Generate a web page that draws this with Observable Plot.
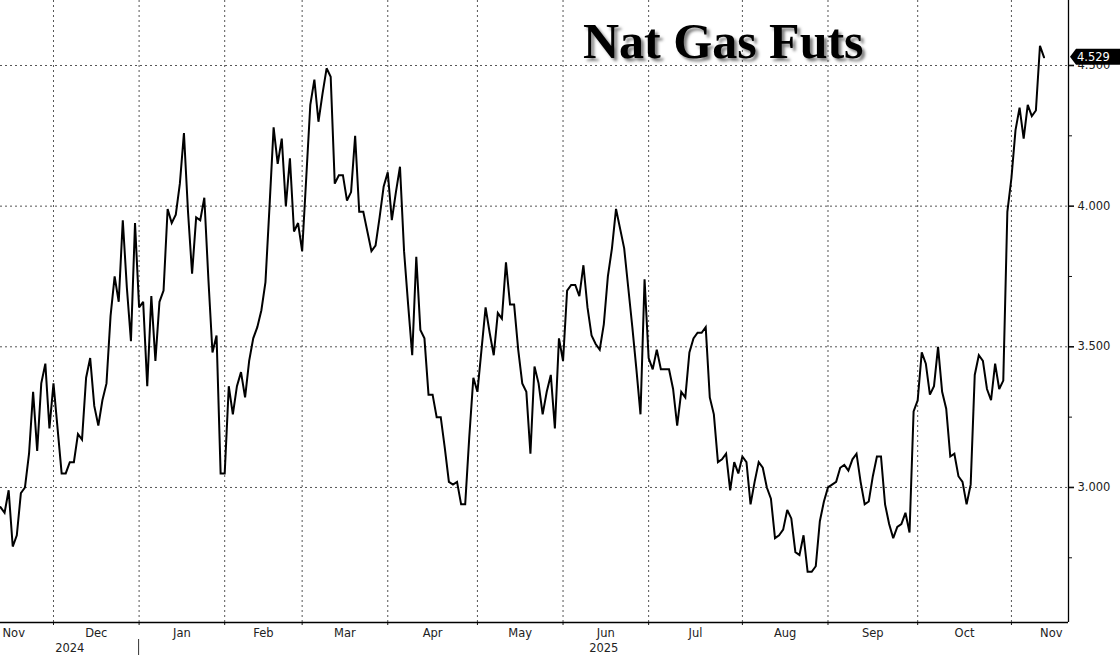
<!DOCTYPE html>
<html>
<head>
<meta charset="utf-8">
<script src="https://cdn.jsdelivr.net/npm/d3@7"></script>
<script src="https://cdn.jsdelivr.net/npm/@observablehq/plot@0.6"></script>
<style>
  html, body { margin: 0; padding: 0; background: #fff; }
  #wrap { position: relative; width: 1120px; height: 655px; overflow: hidden; background: #fff; }
  #title {
    position: absolute; left: 583px; top: 16px; margin: 0; z-index: 5;
    font-family: "Liberation Serif", "Times New Roman", serif; font-weight: bold;
    font-size: 50px; line-height: 50px; color: #000; white-space: nowrap;
    text-shadow: 3px 3px 3px rgba(0,0,0,0.5);
  }
</style>
</head>
<body>
<div id="wrap"><div id="title"></div></div>
<script>
// Daily settlement prices (trading days)
const prices = [
  2.93, 2.91, 2.99, 2.79, 2.83, 2.98, 3.00, 3.12, 3.34, 3.13,
  3.37, 3.44, 3.21, 3.37, 3.21, 3.05, 3.05, 3.09, 3.09, 3.19,
  3.17, 3.39, 3.46, 3.29, 3.22, 3.31, 3.37, 3.61, 3.75, 3.66,
  3.95, 3.71, 3.52, 3.94, 3.64, 3.66, 3.36, 3.68, 3.45, 3.66,
  3.70, 3.99, 3.94, 3.97, 4.08, 4.26, 3.98, 3.76, 3.96, 3.95,
  4.03, 3.74, 3.48, 3.54,
  3.05, 3.05, 3.36, 3.26, 3.36, 3.41, 3.32, 3.45, 3.53, 3.57,
  3.63, 3.73, 4.00, 4.28, 4.15, 4.24, 4.00, 4.17, 3.91, 3.94,
  3.84, 4.10, 4.36, 4.45, 4.30, 4.40, 4.49, 4.46, 4.08, 4.11,
  4.11, 4.02, 4.05, 4.25, 3.98, 3.98, 3.91, 3.84, 3.86, 3.96,
  4.07, 4.12, 3.95, 4.05, 4.14, 3.84, 3.65, 3.47, 3.82, 3.56,
  3.53, 3.33,
  3.33, 3.25, 3.25, 3.14, 3.02, 3.01, 3.02, 2.94, 2.94, 3.18,
  3.39, 3.34, 3.49, 3.64, 3.55, 3.47, 3.62, 3.60, 3.80, 3.65,
  3.65, 3.49, 3.37, 3.34, 3.12, 3.43, 3.37, 3.26, 3.34, 3.40,
  3.21, 3.53, 3.45, 3.70, 3.72, 3.72, 3.68, 3.79, 3.64, 3.54,
  3.51, 3.49, 3.58, 3.75, 3.85, 3.99, 3.92, 3.85, 3.71, 3.57,
  3.42, 3.26, 3.74,
  3.46, 3.42, 3.49, 3.42, 3.42, 3.42, 3.35, 3.22, 3.34, 3.32,
  3.48, 3.53, 3.55, 3.55, 3.57, 3.32, 3.26, 3.09, 3.10, 3.12,
  2.99, 3.09, 3.05, 3.11, 3.09, 2.94, 3.02, 3.09, 3.07, 3.00,
  2.96, 2.82, 2.83, 2.85, 2.92, 2.89, 2.77, 2.76, 2.83, 2.70,
  2.70, 2.72, 2.88, 2.95, 3.00, 3.01, 3.02, 3.07, 3.08, 3.06,
  3.10, 3.12, 3.02,
  2.94, 2.95, 3.04, 3.11, 3.11, 2.94, 2.87, 2.82, 2.86, 2.87,
  2.91, 2.84, 3.27, 3.31, 3.48, 3.44, 3.33, 3.36, 3.50, 3.34,
  3.28, 3.11, 3.12, 3.04, 3.02, 2.94, 3.01, 3.40, 3.47, 3.45,
  3.35, 3.31, 3.44, 3.35, 3.38, 3.98, 4.10, 4.27, 4.35, 4.24,
  4.36, 4.32, 4.34, 4.57, 4.529
];

// Month labels and the trading-day index where each month begins
const monthLabels = ["Nov", "Dec", "Jan", "Feb", "Mar", "Apr", "May", "Jun", "Jul", "Aug", "Sep", "Oct", "Nov"];
const monthStarts = [13, 34, 55, 74, 95, 117, 138, 159, 182, 203, 225, 248];
const yearLabels = ["2024", "2025"];
const yearStarts = [0, 34];
const xEnd = 262;

const yTicks = [3.0, 3.5, 4.0, 4.5];
const yMinorTicks = [2.75, 3.25, 3.75, 4.25];
const yDomain = [2.52, 4.731];
const titleText = "Nat Gas Futs";

document.getElementById("title").textContent = titleText;

const bounds = [0, ...monthStarts, xEnd];
const midMonths = monthLabels.slice(1, -1).map((label, k) => ({label, x: (bounds[k + 1] + bounds[k + 2]) / 2}));
const yearBounds = [...yearStarts, xEnd];
const years = yearLabels.map((label, k) => ({label, x: (yearBounds[k] + yearBounds[k + 1]) / 2}));
const fmt = d3.format(".3f");

const chart = Plot.plot({
  width: 1120,
  height: 655,
  marginLeft: 0,
  marginRight: 52,
  marginTop: 0,
  marginBottom: 33,
  style: {fontFamily: "DejaVu Sans", fontSize: "11.5px", color: "#111", background: "#fff", overflow: "visible"},
  x: {domain: [0, xEnd], axis: null},
  y: {domain: yDomain, axis: null},
  marks: [
    Plot.ruleY(yTicks, {stroke: "#555", strokeDasharray: "2,3", strokeWidth: 1}),
    Plot.ruleX(monthStarts, {stroke: "#555", strokeDasharray: "2,3", strokeWidth: 1}),
    Plot.axisY({anchor: "right", ticks: yTicks, tickFormat: fmt, tickSize: 5, tickPadding: 4,
                strokeWidth: 1.6, label: null, fill: "#222"}),
    Plot.axisY({anchor: "right", ticks: yMinorTicks, tickSize: 3, tickFormat: () => "", label: null}),
    Plot.axisX({anchor: "bottom", ticks: monthStarts, tickSize: 3, tickFormat: () => "", label: null}),
    Plot.ruleY([yDomain[0]], {stroke: "#000", strokeWidth: 1.3}),
    Plot.ruleX([xEnd], {stroke: "#000", strokeWidth: 1.3}),
    Plot.line(prices, {x: (d, i) => i, y: d => d, stroke: "#000", strokeWidth: 2, strokeLinejoin: "miter", strokeMiterlimit: 3}),
    Plot.text(midMonths, {x: "x", frameAnchor: "bottom", lineAnchor: "middle", text: "label", dy: 11, fill: "#222"}),
    Plot.text([monthLabels[0]], {x: () => 0, frameAnchor: "bottom", lineAnchor: "middle", textAnchor: "start", text: d => d, dy: 11, dx: 2, fill: "#222"}),
    Plot.text([monthLabels[monthLabels.length - 1]], {x: () => xEnd, frameAnchor: "bottom", lineAnchor: "middle", textAnchor: "end", text: d => d, dy: 11, dx: -6, fill: "#222"}),
    Plot.text(years, {x: "x", frameAnchor: "bottom", lineAnchor: "middle", text: "label", dy: 26, fill: "#222"})
  ]
});

document.getElementById("wrap").appendChild(chart);
chart.style.position = "absolute";
chart.style.left = "0px";
chart.style.top = "0px";
chart.style.zIndex = "1";

// Year separator and last-price tag, placed through the plot's scales
const xs = chart.scale("x"), ys = chart.scale("y");
const svg = d3.select(chart);
const yBase = ys.apply(yDomain[0]);
yearStarts.slice(1).forEach(s => {
  const px = xs.apply(s);
  svg.append("line").attr("x1", px).attr("x2", px).attr("y1", yBase + 17).attr("y2", 655)
    .attr("stroke", "#333").attr("stroke-width", 1);
});
const last = prices[prices.length - 1];
const ly = ys.apply(last);
const ax = xs.apply(xEnd);
svg.append("path")
  .attr("d", `M${ax + 2},${ly} L${ax + 8},${ly - 8} L1120,${ly - 8} L1120,${ly + 8} L${ax + 8},${ly + 8} Z`)
  .attr("fill", "#000");
svg.append("text")
  .attr("x", ax + 9).attr("y", ly).attr("dy", "0.36em")
  .attr("text-anchor", "start")
  .attr("fill", "#fff").attr("font-family", "DejaVu Sans").attr("font-size", "11.5px")
  .text(fmt(last));
</script>
</body>
</html>
